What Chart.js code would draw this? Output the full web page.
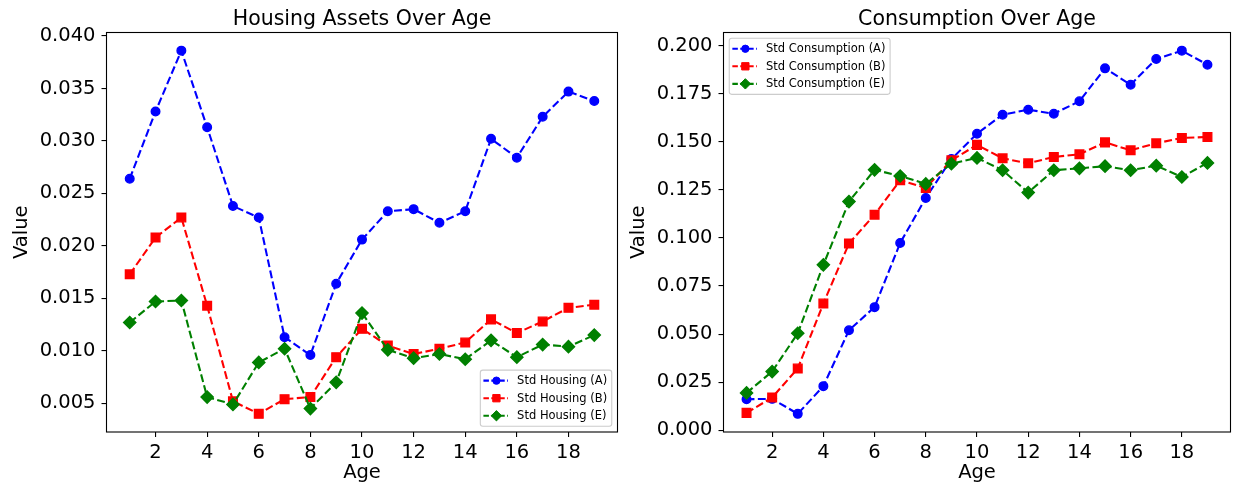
<!DOCTYPE html>
<html>
<head>
<meta charset="utf-8">
<title>Housing Assets and Consumption Over Age</title>
<script src="https://cdn.jsdelivr.net/npm/chart.js@4.4.1/dist/chart.umd.min.js"></script>
<style>
  html, body { margin: 0; padding: 0; background: #ffffff; }
  body { width: 1238px; height: 485px; position: relative; overflow: hidden; }
  canvas { position: absolute; top: 0; }
  #housing { left: 0; }
  #consumption { left: 617px; }
</style>
</head>
<body>
<canvas id="housing" width="625" height="485"></canvas>
<canvas id="consumption" width="621" height="485"></canvas>
<script>
// ---- data -------------------------------------------------------------
const ages = [1, 2, 3, 4, 5, 6, 7, 8, 9, 10, 11, 12, 13, 14, 15, 16, 17, 18, 19];

const housingA = [0.0264, 0.0328, 0.0386, 0.0313, 0.0238, 0.0227, 0.0113, 0.0096, 0.0164, 0.0206,
                  0.0233, 0.0235, 0.0222, 0.0233, 0.0302, 0.0284, 0.0323, 0.0347, 0.0338];
const housingB = [0.0173, 0.0208, 0.0227, 0.0143, 0.0052, 0.0040, 0.0054, 0.0056, 0.0094, 0.0121,
                  0.0105, 0.0097, 0.0102, 0.0108, 0.0130, 0.0117, 0.0128, 0.0141, 0.0144];
const housingE = [0.0127, 0.0147, 0.0148, 0.0056, 0.0049, 0.0089, 0.0102, 0.0045, 0.0070, 0.0136,
                  0.0101, 0.0093, 0.0097, 0.0092, 0.0110, 0.0094, 0.0106, 0.0104, 0.0115];

const consumptionA = [0.0161, 0.0163, 0.0085, 0.0229, 0.0520, 0.0640, 0.0974, 0.1208, 0.1410, 0.1542,
                      0.1641, 0.1667, 0.1646, 0.1711, 0.1882, 0.1797, 0.1931, 0.1974, 0.1901];
const consumptionB = [0.0090, 0.0170, 0.0321, 0.0659, 0.0971, 0.1121, 0.1300, 0.1260, 0.1404, 0.1484,
                      0.1414, 0.1388, 0.1421, 0.1435, 0.1497, 0.1456, 0.1492, 0.1520, 0.1525];
const consumptionE = [0.0194, 0.0305, 0.0504, 0.0860, 0.1189, 0.1354, 0.1322, 0.1281, 0.1386, 0.1416,
                      0.1352, 0.1236, 0.1352, 0.1362, 0.1373, 0.1352, 0.1376, 0.1317, 0.1390];

const ageTicks = [2, 4, 6, 8, 10, 12, 14, 16, 18];
const housingTicks = [0.005, 0.010, 0.015, 0.020, 0.025, 0.030, 0.035, 0.040];
const consumptionTicks = [0.000, 0.025, 0.050, 0.075, 0.100, 0.125, 0.150, 0.175, 0.200];

// ---- styling ----------------------------------------------------------
const FONT = "'DejaVu Sans', 'Liberation Sans', sans-serif";
Chart.defaults.font.family = FONT;
Chart.defaults.color = '#000000';

const BLUE = '#0000ff', RED = '#ff0000', GREEN = '#008000';

function series(label, values, color, pointStyle, radius, order) {
  return {
    label, order,
    data: ages.map((a, i) => ({ x: a, y: values[i] })),
    borderColor: color,
    backgroundColor: color,
    borderWidth: 2.1,
    borderDash: [7.9, 3.4],
    tension: 0,
    fill: false,
    pointStyle,
    pointRadius: radius,
    pointHoverRadius: radius,
    pointBorderWidth: 1.4,
    pointBackgroundColor: color,
    pointBorderColor: color
  };
}

// axis range with a 5% margin around the data
function paddedRange(list) {
  const all = list.flat();
  const lo = Math.min(...all), hi = Math.max(...all);
  const m = (hi - lo) * 0.05;
  return { min: lo - m, max: hi + m };
}

function buildScales(range, yTicks) {
  const tickFont = { family: FONT, size: 19.5 };
  const labelFont = { family: FONT, size: 19.5 };
  const tickGrid = { drawOnChartArea: false, drawTicks: true, tickLength: 5, color: '#000000', lineWidth: 1.1 };
  return {
    x: {
      type: 'linear',
      min: ages[0] - 0.05 * (ages[ages.length - 1] - ages[0]),
      max: ages[ages.length - 1] + 0.05 * (ages[ages.length - 1] - ages[0]),
      afterBuildTicks: s => { s.ticks = ageTicks.map(v => ({ value: v })); },
      afterFit: s => { s.height = 53; },
      grid: tickGrid,
      border: { display: false },
      ticks: { font: tickFont, color: '#000000', padding: 4, maxRotation: 0, autoSkip: false,
               callback: v => String(v) },
      title: { display: true, text: 'Age', font: labelFont, color: '#000000', padding: { top: 0, bottom: 0 } }
    },
    y: {
      type: 'linear',
      min: range.min,
      max: range.max,
      afterBuildTicks: s => { s.ticks = yTicks.map(v => ({ value: v })); },
      afterFit: s => { s.width = 106.5; },
      grid: tickGrid,
      border: { display: false },
      ticks: { font: tickFont, color: '#000000', padding: 6, autoSkip: false,
               callback: v => v.toFixed(3) },
      title: { display: true, text: 'Value', font: labelFont, color: '#000000', padding: { top: 10, bottom: 0 } }
    }
  };
}

// axes frame, centred title and an in-axes legend box
const axesDecor = {
  id: 'axesDecor',
  afterDraw(chart, args, opts) {
    const { ctx, chartArea: a } = chart;
    ctx.save();

    // frame
    ctx.strokeStyle = '#000000';
    ctx.lineWidth = 1.1;
    ctx.setLineDash([]);
    ctx.strokeRect(a.left, a.top, a.right - a.left, a.bottom - a.top);

    // title
    ctx.fillStyle = '#000000';
    ctx.font = `20.5px ${FONT}`;
    ctx.textAlign = 'center';
    ctx.textBaseline = 'alphabetic';
    ctx.fillText(opts.title, (a.left + a.right) / 2, 25);

    // legend
    const fs = 11.5;
    const pad = 0.4 * fs, handleLen = 2 * fs, handlePad = 0.8 * fs, spacing = 0.5 * fs, axPad = 0.5 * fs;
    const rowH = 11.8;
    ctx.font = `${fs}px ${FONT}`;
    const items = chart.data.datasets;
    const textW = Math.max(...items.map(d => ctx.measureText(d.label).width));
    const w = 2 * pad + handleLen + handlePad + textW;
    const h = 2 * pad + items.length * rowH + (items.length - 1) * spacing;
    const left = opts.corner === 'lower right' ? a.right - axPad - w : a.left + axPad;
    const top = opts.corner === 'lower right' ? a.bottom - axPad - h : a.top + axPad;

    ctx.beginPath();
    if (ctx.roundRect) ctx.roundRect(left, top, w, h, 2.5); else ctx.rect(left, top, w, h);
    ctx.fillStyle = 'rgba(255,255,255,0.8)';
    ctx.fill();
    ctx.strokeStyle = '#cccccc';
    ctx.lineWidth = 1.1;
    ctx.stroke();

    items.forEach((d, i) => {
      const cy = top + pad + rowH / 2 + i * (rowH + spacing);
      const x0 = left + pad;
      ctx.strokeStyle = d.borderColor;
      ctx.lineWidth = d.borderWidth;
      ctx.setLineDash([5.5, 2.4]);
      ctx.beginPath();
      ctx.moveTo(x0 - 1.5, cy);
      ctx.lineTo(x0 + handleLen, cy);
      ctx.stroke();
      ctx.setLineDash([]);
      ctx.fillStyle = d.pointBackgroundColor;
      ctx.strokeStyle = d.pointBorderColor;
      ctx.lineWidth = 1;
      Chart.helpers.drawPoint(ctx, { pointStyle: d.pointStyle, radius: d.pointRadius * 0.85, rotation: 0, borderWidth: 1 },
                              x0 + handleLen / 2, cy);
      ctx.fillStyle = '#000000';
      ctx.textAlign = 'left';
      ctx.textBaseline = 'middle';
      ctx.fillText(d.label, x0 + handleLen + handlePad, cy + 0.5);
    });

    ctx.restore();
  }
};

function makeChart(id, title, corner, datasets, yTicks, padRight) {
  const range = paddedRange(datasets.map(d => d.data.map(p => p.y)));
  return new Chart(document.getElementById(id), {
    type: 'line',
    data: { datasets },
    options: {
      responsive: false,
      animation: false,
      devicePixelRatio: 1,
      layout: { padding: { top: 32.5, right: padRight, bottom: 0, left: 0 } },
      scales: buildScales(range, yTicks),
      plugins: {
        legend: { display: false },
        tooltip: { enabled: false },
        axesDecor: { title, corner }
      }
    },
    plugins: [axesDecor]
  });
}

makeChart('housing', 'Housing Assets Over Age', 'lower right', [
  series('Std Housing (A)', housingA, BLUE, 'circle', 4.3, 3),
  series('Std Housing (B)', housingB, RED, 'rect', 6.1, 2),
  series('Std Housing (E)', housingE, GREEN, 'rectRot', 6.1, 1)
], housingTicks, 6.5);

makeChart('consumption', 'Consumption Over Age', 'upper left', [
  series('Std Consumption (A)', consumptionA, BLUE, 'circle', 4.3, 3),
  series('Std Consumption (B)', consumptionB, RED, 'rect', 6.1, 2),
  series('Std Consumption (E)', consumptionE, GREEN, 'rectRot', 6.1, 1)
], consumptionTicks, 2);
</script>
</body>
</html>
